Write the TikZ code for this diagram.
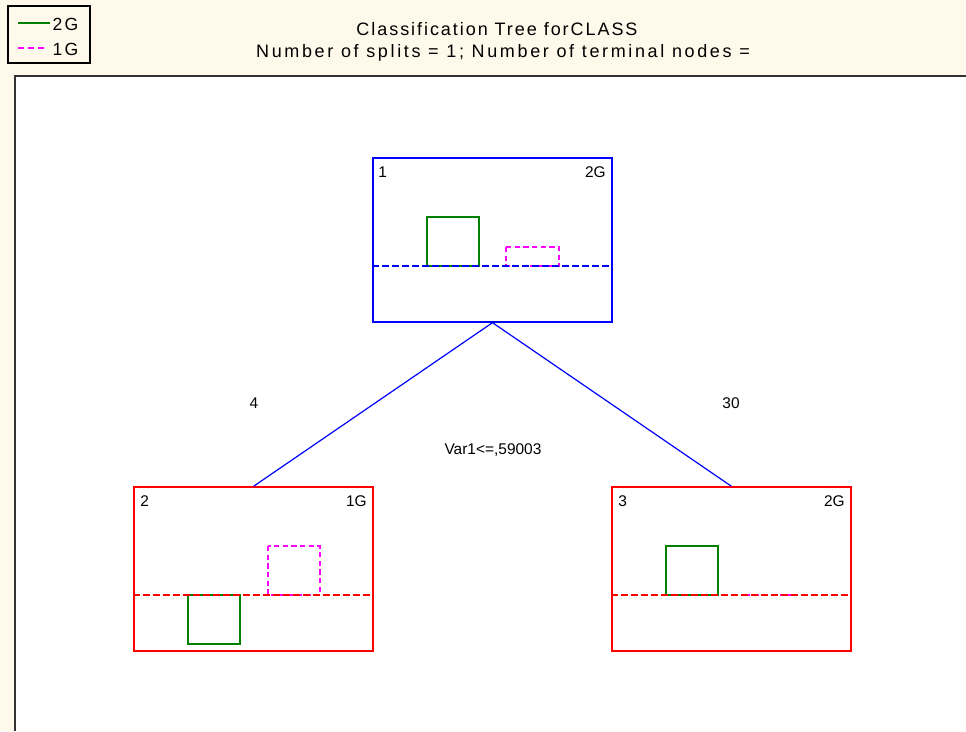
\documentclass[tikz,border=0pt]{standalone}
\usepackage{fontspec}
\setmainfont{Liberation Sans}
\newfontfamily\spacedfont[LetterSpace=12]{Liberation Sans}
\newfontfamily\headonefont[LetterSpace=10.8]{Liberation Sans}
\newfontfamily\headtwofont[LetterSpace=14.7]{Liberation Sans}
\definecolor{panel}{RGB}{255,249,236}
\definecolor{frame}{RGB}{51,51,51}
\definecolor{bargreen}{RGB}{0,128,0}
\definecolor{barpink}{RGB}{255,0,255}
\begin{document}
\begin{tikzpicture}[x=0.75pt,y=-0.75pt,
  treebox/.style={draw, line width=1pt, minimum width=179.25pt, minimum height=123pt, inner sep=0pt},
  splitline/.style={line width=0.9pt, dash pattern=on 5pt off 2.5pt},
  gbar/.style={draw=bargreen, line width=1pt},
  mbar/.style={draw=barpink, line width=1pt, dash pattern=on 4pt off 2.5pt},
  edge/.style={draw=blue, line width=0.9pt},
  lbl/.style={inner sep=0pt, text=black, font=\fontsize{11.6}{13}\selectfont},
  ttl/.style={inner sep=0pt, anchor=base, text=black, font=\fontsize{13.2}{15}\spacedfont},
  head/.style={inner sep=0pt, anchor=base, text=black}]
\useasboundingbox (0,0) rectangle (966,731);
% backdrop and plotting panel
\fill[panel] (0,0) rectangle (966,731);
\fill[white] (16,76) rectangle (966,731);
\draw[frame, line width=1.5pt] (15,731) -- (15,76) -- (966,76);

% legend
\draw[black, line width=1pt] (8,6) rectangle (90,63);
\coordinate (lg1) at (18,23);
\coordinate (lg2) at (18,48);
\draw[bargreen, line width=1pt] (lg1) -- ++(32,0) node[ttl, anchor=base west, xshift=1.5pt, yshift=-5.5pt] (lgt1) {2G};
\draw[barpink, line width=1pt, dash pattern=on 4.5pt off 3pt] (lg2) -- ++(30,0) node[ttl, anchor=base west, xshift=3pt, yshift=-5.5pt] (lgt2) {1G};

% titles
\node[head, font=\fontsize{13.5}{15}\headonefont] (title1) at (497,36) {Classification Tree forCLASS};
\node[head, font=\fontsize{13.5}{15}\headtwofont] (title2) at (503,58) {Number of splits = 1; Number of terminal nodes =};

% tree nodes
\node[treebox, draw=blue] (n1) at (492.5,240) {};
\node[treebox, draw=red] (n2) at (253.5,569) {};
\node[treebox, draw=red] (n3) at (731.5,569) {};

% node numbers and predicted classes
\node[lbl, anchor=base west] (n1id) at (378,177) {1};
\node[lbl, anchor=base east] (n1cl) at (606,177) {2G};
\node[lbl, anchor=base west] (n2id) at (140,506) {2};
\node[lbl, anchor=base east] (n2cl) at (367,506) {1G};
\node[lbl, anchor=base west] (n3id) at (618,506) {3};
\node[lbl, anchor=base east] (n3cl) at (845,506) {2G};

% class histograms in node 1
\draw[gbar] (427,217) rectangle (479,266);
\draw[mbar] (506,247) rectangle (559,266);
\draw[splitline, blue] (n1.west |- 0,266) -- (n1.east |- 0,266);

% class histograms in node 2
\draw[mbar] (268,546) rectangle (320,595);
\draw[gbar] (188,595) rectangle (240,644);
\draw[splitline, red] (n2.west |- 0,595) -- (n2.east |- 0,595);

% class histograms in node 3
\draw[gbar] (666,546) rectangle (718,595);
\draw[mbar] (745,595) -- (797,595);
\draw[splitline, red] (n3.west |- 0,595) -- (n3.east |- 0,595);

% branches
\draw[edge] (n1.south) -- (n2.north);
\draw[edge] (n1.south) -- (n3.north);

% branch counts and split condition
\node[lbl, anchor=base] (cnt2) at (254,408) {4};
\node[lbl, anchor=base] (cnt3) at (731,408) {30};
\node[lbl, anchor=base] (split) at (493,454) {Var1<=,59003};
\end{tikzpicture}
\end{document}
